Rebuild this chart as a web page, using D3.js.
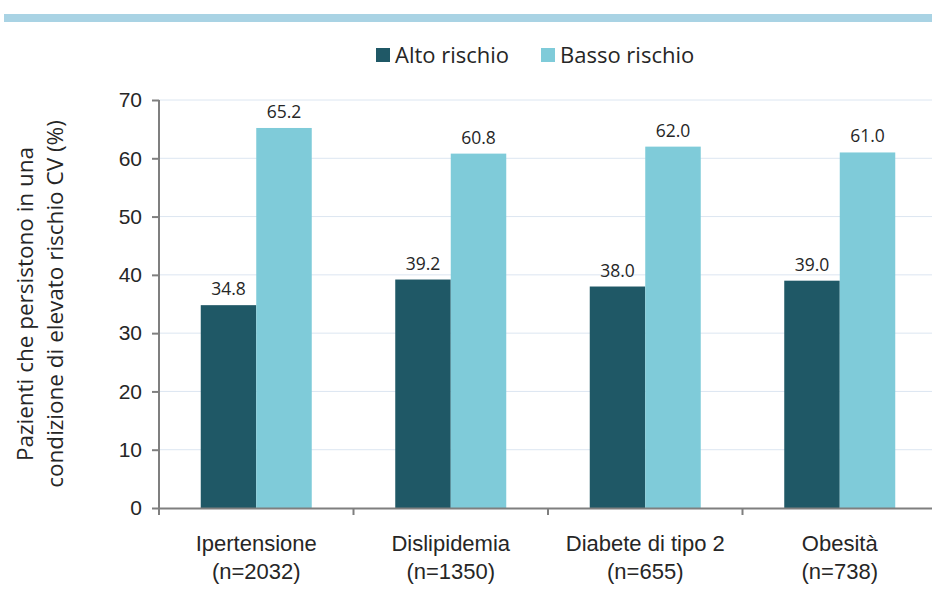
<!DOCTYPE html>
<html>
<head>
<meta charset="utf-8">
<script src="https://d3js.org/d3.v7.min.js"></script>
<style>
    body { margin: 0; background: #fff; }
    svg { display: block; font-family: "Open Sans", "Noto Sans", sans-serif; }
    .grid line { stroke: #dce6f1; stroke-width: 1px; }
    .axis path, .axis line { stroke: #7f7f7f; stroke-width: 2px; }
    .axis text { fill: #262626; font-size: 21px; }
    .val { fill: #262626; font-size: 17.5px; text-anchor: middle; }
</style>
</head>
<body>
<svg id="the-chart" width="932" height="596"></svg>
<script>
    var categories = ['Ipertensione', 'Dislipidemia', 'Diabete di tipo 2', 'Obesità'];
    var sampleSizes = ['(n=2032)', '(n=1350)', '(n=655)', '(n=738)'];
    var seriesNames = ['Alto rischio', 'Basso rischio'];
    var altoRischio = [34.8, 39.2, 38.0, 39.0];
    var bassoRischio = [65.2, 60.8, 62.0, 61.0];
    var yTicks = [0, 10, 20, 30, 40, 50, 60, 70];
    var colors = ['#1f5866', '#7fcbd9'];

    var svg = d3.select('#the-chart');
    var margin = { top: 100, right: -5, bottom: 88, left: 159 };
    var width = +svg.attr('width') - margin.left - margin.right;
    var height = +svg.attr('height') - margin.top - margin.bottom;

    // top band
    svg.append('rect')
        .attr('x', 4).attr('y', 14)
        .attr('width', 928).attr('height', 8)
        .attr('fill', '#a9d3e4');

    var g = svg.append('g')
        .attr('transform', 'translate(' + margin.left + ',' + margin.top + ')');

    var x = d3.scaleBand().domain(categories).range([0, width]);
    var x1 = d3.scaleBand().domain(seriesNames)
        .range([x.bandwidth() / 2 - 55.5, x.bandwidth() / 2 + 55.5]);
    var y = d3.scaleLinear().domain([0, 70]).range([height, 0]);

    g.append('g').attr('class', 'grid')
        .selectAll('line').data(yTicks.slice(1)).enter().append('line')
        .attr('x1', 0).attr('x2', width)
        .attr('y1', function(d) { return y(d); })
        .attr('y2', function(d) { return y(d); });

    var groups = g.selectAll('.grp').data(categories).enter().append('g')
        .attr('class', 'grp')
        .attr('transform', function(d) { return 'translate(' + x(d) + ',0)'; });

    var series = [altoRischio, bassoRischio];
    seriesNames.forEach(function(s, si) {
        groups.append('rect')
            .attr('x', x1(s))
            .attr('width', x1.bandwidth())
            .attr('y', function(d, i) { return y(series[si][i]); })
            .attr('height', function(d, i) { return height - y(series[si][i]); })
            .attr('fill', colors[si]);
        groups.append('text')
            .attr('class', 'val')
            .attr('x', x1(s) + x1.bandwidth() / 2)
            .attr('y', function(d, i) { return y(series[si][i]) - 10; })
            .text(function(d, i) { return series[si][i].toFixed(1); });
    });

    var yAxis = g.append('g').attr('class', 'axis')
        .call(d3.axisLeft(y).tickValues(yTicks).tickSize(7).tickSizeOuter(0).tickPadding(10));
    yAxis.select('.domain').attr('d', 'M0,' + (height + 7) + 'V0');

    var xAxis = g.append('g').attr('class', 'axis')
        .attr('transform', 'translate(0,' + height + ')')
        .call(d3.axisBottom(x).tickSize(0).tickSizeOuter(0));
    xAxis.selectAll('.tick text').remove();
    xAxis.selectAll('.bt').data(categories.map(function(c) { return x(c); }).concat([width]))
        .enter().append('line')
        .attr('x1', function(d) { return d; }).attr('x2', function(d) { return d; })
        .attr('y1', 0).attr('y2', 7)
        .attr('stroke', '#7f7f7f').attr('stroke-width', 2);
    var lbl = xAxis.selectAll('.lbl').data(categories).enter().append('text')
        .attr('class', 'lbl')
        .attr('x', function(d) { return x(d) + x.bandwidth() / 2; })
        .attr('y', 43)
        .attr('text-anchor', 'middle')
        .attr('fill', '#262626')
        .style('font-size', '22px');
    lbl.append('tspan').text(function(d) { return d; });
    lbl.append('tspan').attr('x', function(d) { return x(d) + x.bandwidth() / 2; })
        .attr('dy', 28).text(function(d, i) { return sampleSizes[i]; });

    // y title
    var yt = svg.append('text')
        .attr('transform', 'translate(0,' + (margin.top + height / 2) + ') rotate(-90)')
        .attr('text-anchor', 'middle')
        .attr('fill', '#262626')
        .style('font-size', '22.5px');
    yt.append('tspan').attr('x', 0).attr('y', 33).text('Pazienti che persistono in una');
    yt.append('tspan').attr('x', 0).attr('y', 63).text('condizione di elevato rischio CV (%)');

    // legend
    var legX = [376, 541];
    var leg = svg.selectAll('.leg').data(seriesNames).enter().append('g')
        .attr('transform', function(d, i) { return 'translate(' + legX[i] + ',48)'; });
    leg.append('rect').attr('width', 14).attr('height', 14)
        .attr('fill', function(d, i) { return colors[i]; });
    leg.append('text').attr('x', 19).attr('y', 15)
        .attr('fill', '#262626').style('font-size', '22px')
        .text(function(d) { return d; });
</script>
</body>
</html>
